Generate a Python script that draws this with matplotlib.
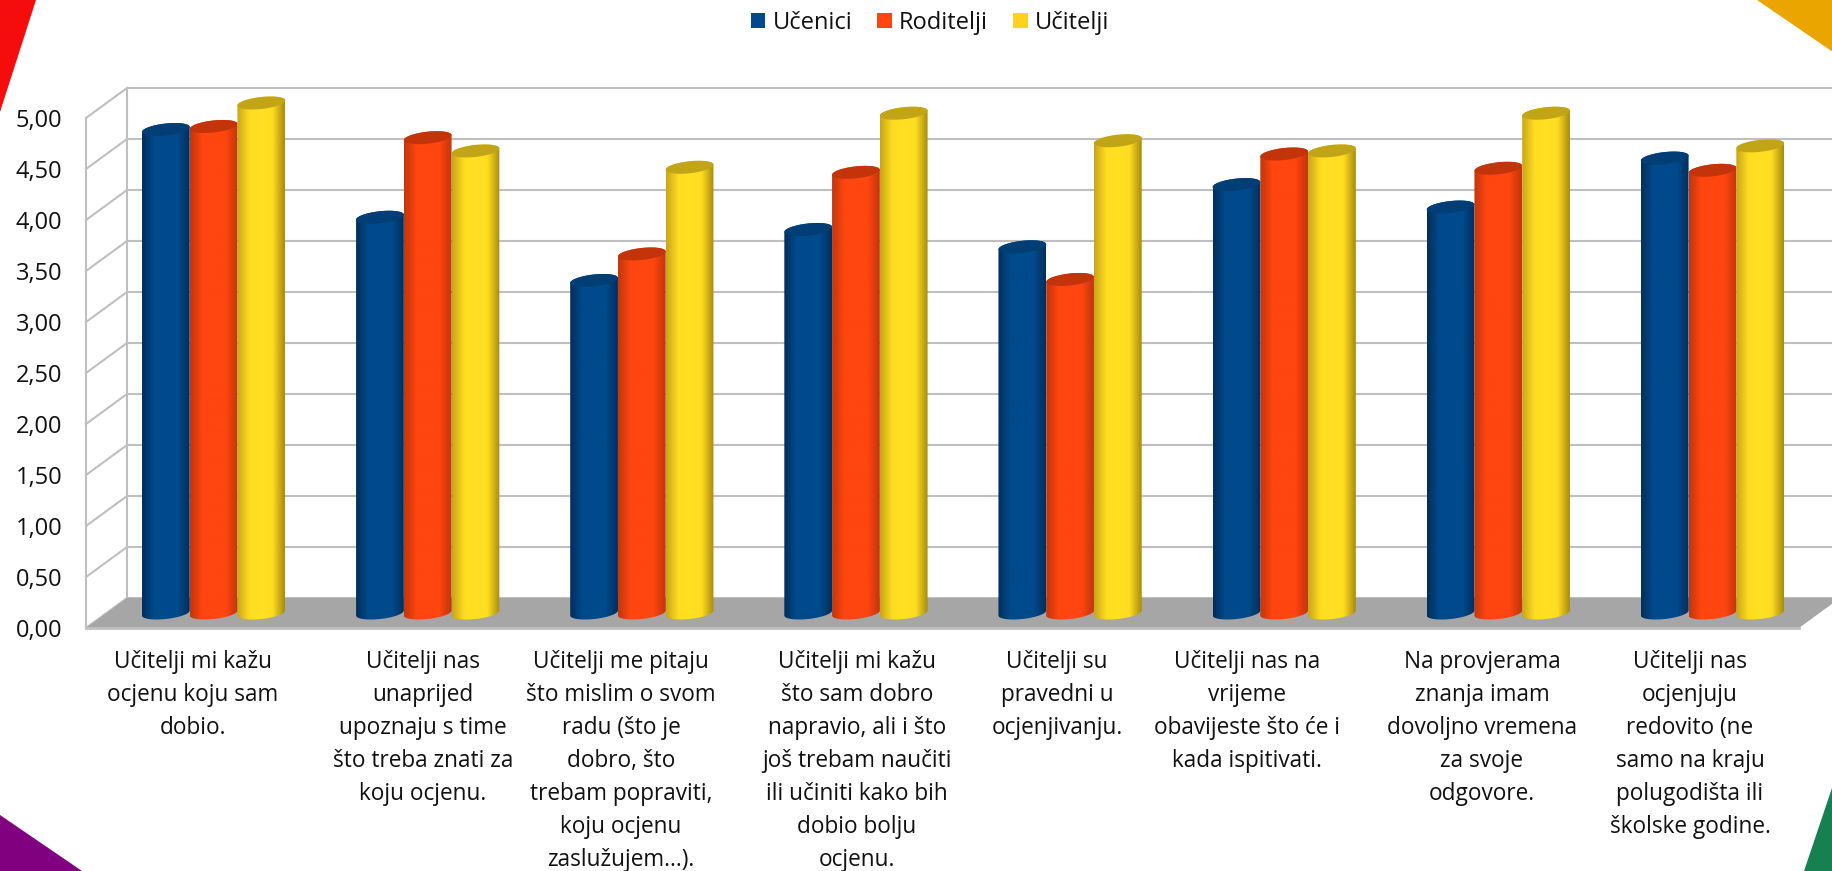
import numpy as np
import matplotlib
matplotlib.use("Agg")
import matplotlib.pyplot as plt
from matplotlib.colors import LinearSegmentedColormap
from matplotlib.patches import Patch, PathPatch, Polygon
from matplotlib.path import Path

plt.rcParams["font.family"] = ["Open Sans", "DejaVu Sans"]

series = ["Učenici", "Roditelji", "Učitelji"]
ucenici = [4.74, 3.88, 3.26, 3.76, 3.59, 4.20, 3.98, 4.46]
roditelji = [4.77, 4.66, 3.52, 4.32, 3.27, 4.50, 4.36, 4.34]
ucitelji = [5.00, 4.53, 4.37, 4.90, 4.63, 4.53, 4.90, 4.58]
categories = [
    "Učitelji mi kažu\nocjenu koju sam\ndobio.",
    "Učitelji nas\nunaprijed\nupoznaju s time\nšto treba znati za\nkoju ocjenu.",
    "Učitelji me pitaju\nšto mislim o svom\nradu (što je\ndobro, što\ntrebam popraviti,\nkoju ocjenu\nzaslužujem...).",
    "Učitelji mi kažu\nšto sam dobro\nnapravio, ali i što\njoš trebam naučiti\nili učiniti kako bih\ndobio bolju\nocjenu.",
    "Učitelji su\npravedni u\nocjenjivanju.",
    "Učitelji nas na\nvrijeme\nobavijeste što će i\nkada ispitivati.",
    "Na provjerama\nznanja imam\ndovoljno vremena\nza svoje\nodgovore.",
    "Učitelji nas\nocjenjuju\nredovito (ne\nsamo na kraju\npolugodišta ili\nškolske godine.",
]
yticks = [0, 0.5, 1, 1.5, 2, 2.5, 3, 3.5, 4, 4.5, 5]

W, H = 1833, 871
DX = 41 / 214.0   # depth of the 3d box in category units
DY = 30 / 102.0   # same in value units
BAR_W = 0.223
CAP_B = 6 / 102.0
CAP_S = 2.5 / 102.0
GREY = "#BFBFBF"
# the labels are not quite centred under their groups in the original (pixels)
LABEL_PX = [193, 423, 621, 857, 1057, 1247, 1482, 1690]

colors = ["#004A8C", "#FF4510", "#FFD21E"]
caps = ["#003E75", "#C4340A", "#C2A516"]
ramps = [
    ["#002F5C", "#004A8C", "#004A8C", "#004A8C", "#002F5C"],
    ["#C2370C", "#FF4510", "#FF4510", "#FF4510", "#C2370C"],
    ["#C9A618", "#FFDC20", "#FFE024", "#FFDC20", "#A88C10"],
]


def ellipse_xy(cx, cy, t):
    return np.column_stack([cx + BAR_W / 2 * np.cos(t),
                            cy + CAP_B * np.sin(t) + CAP_S * np.cos(t)])


def draw_bar(ax, cx, v, k, z):
    y0 = DY / 2
    top = v + DY / 2
    low = ellipse_xy(cx, y0, np.linspace(np.pi, 2 * np.pi, 40))
    up = ellipse_xy(cx, top, np.linspace(0, np.pi, 40))
    outline = np.vstack([low, up, low[:1]])
    clip = PathPatch(Path(outline), transform=ax.transData)
    cmap = LinearSegmentedColormap.from_list("c", ramps[k])
    im = ax.imshow(np.linspace(0, 1, 64).reshape(1, -1), cmap=cmap, aspect="auto",
                   extent=[cx - BAR_W / 2, cx + BAR_W / 2, y0 - 0.1, top + 0.1],
                   zorder=z, interpolation="bilinear")
    im.set_clip_box(fig.bbox)
    im.set_clip_path(clip)
    cap = ellipse_xy(cx, top, np.linspace(0, 2 * np.pi, 80))
    ax.add_patch(Polygon(cap, closed=True, fc=caps[k], ec="none", zorder=z + 0.1, clip_on=False))


fig = plt.figure(figsize=(W / 100, H / 100), dpi=100)
ax = fig.add_axes([86 / W, (H - 628) / H, 1713 / W, 510 / H])

# corner decoration
for pts, c in [
    ([(0, 0), (36, 0), (0, 112)], "#F50D0D"),
    ([(0, 815), (0, 871), (82, 871)], "#800080"),
    ([(1757, 0), (1833, 0), (1833, 52)], "#EAA500"),
    ([(1804, 871), (1833, 785), (1833, 871)], "#178050"),
]:
    fig.add_artist(Polygon([(x / W, 1 - y / H) for x, y in pts], closed=True, fc=c, ec="none",
                           transform=fig.transFigure))

# box: floor, walls, gridlines
ax.add_patch(Polygon([(0, 0), (8, 0), (8 + DX, DY), (DX, DY)], closed=True, fc="#A6A6A6", ec="none",
                     zorder=2, clip_on=False))
for v in yticks:
    ax.plot([DX, 8 + DX], [v + DY, v + DY], color=GREY, lw=1.5, zorder=1, clip_on=False)
    ax.plot([0, DX], [v, v + DY], color=GREY, lw=1.5, zorder=1, clip_on=False)
ax.plot([0, 0], [0, 5], color=GREY, lw=1.5, zorder=1, clip_on=False)
ax.plot([DX, DX], [DY, 5 + DY], color=GREY, lw=1.5, zorder=1, clip_on=False)
ax.plot([0, 8], [0, 0], color=GREY, lw=2, zorder=3, clip_on=False)

for i in range(len(categories)):
    for k, vals in enumerate([ucenici, roditelji, ucitelji]):
        draw_bar(ax, i + 0.5 + DX / 2 + (k - 1) * BAR_W, vals[i], k, 4 + k)

ax.set_xlim(0, 8)
ax.set_ylim(0, 5)
ax.patch.set_alpha(0)
for s in ax.spines.values():
    s.set_visible(False)
ax.set_yticks(yticks)
ax.set_yticklabels([f"{v:.2f}".replace(".", ",") for v in yticks], fontsize=17, color="#111111")
ax.set_xticks([(p - 86) / (1713 / 8) for p in LABEL_PX])
ax.set_xticklabels(categories, fontsize=16.3, color="#111111", linespacing=1.5, va="top")
ax.tick_params(axis="both", length=0)
ax.tick_params(axis="y", pad=17)
ax.tick_params(axis="x", pad=16)

handles = [Patch(fc=c, ec="none", label=s) for c, s in zip(colors, series)]
fig.legend(handles=handles, loc="upper center", bbox_to_anchor=(0.5074, 1.012), ncol=3, frameon=False,
           fontsize=17, handlelength=0.63, handleheight=0.63, handletextpad=0.3, columnspacing=1.06,
           labelcolor="#111111")

fig.savefig("out.png", dpi=100)
